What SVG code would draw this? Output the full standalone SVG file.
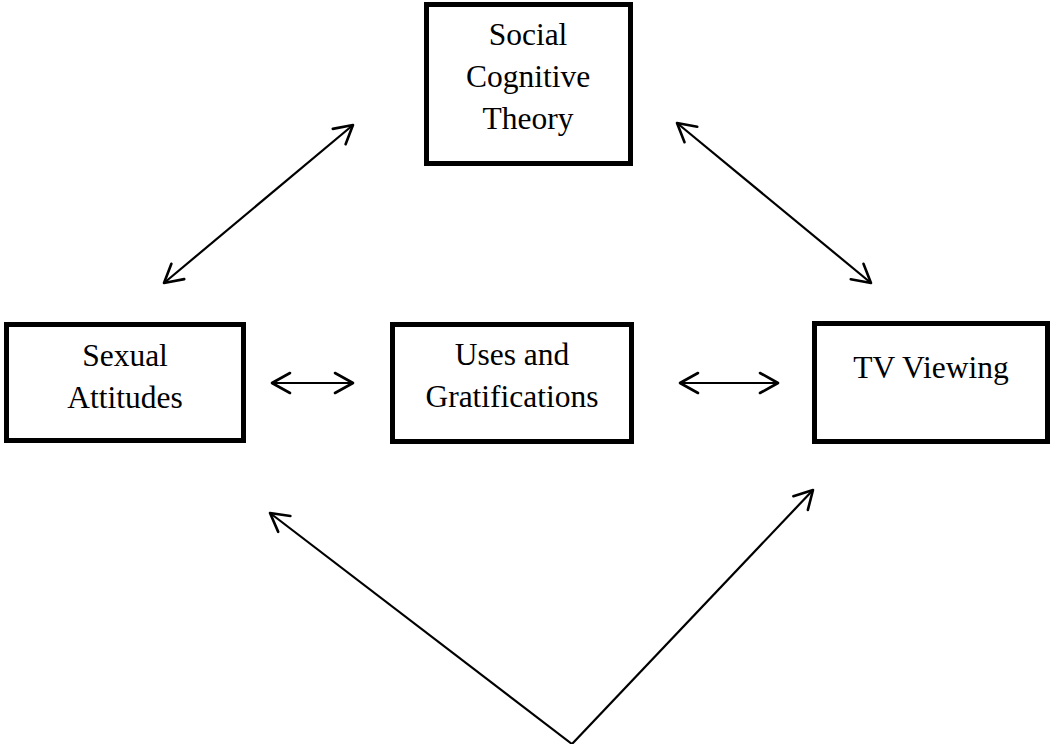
<svg xmlns="http://www.w3.org/2000/svg" width="1054" height="744" viewBox="0 0 1054 744">
<style>
.box{fill:#fff;stroke:#000;stroke-width:5}
.lbl{font-family:"Liberation Serif","Times New Roman",serif;font-size:31.5px;fill:#000;text-anchor:middle}
.con{fill:none;stroke:#000;stroke-width:2.2;marker-start:url(#ah);marker-end:url(#ah)}
.conb{fill:none;stroke:#000;stroke-width:2.2;marker-end:url(#ah)}
</style>
<defs>
<marker id="ah" markerUnits="userSpaceOnUse" markerWidth="30" markerHeight="30" refX="0" refY="0" viewBox="-22 -15 30 30" orient="auto-start-reverse" overflow="visible">
<path d="M -18 -10 L 0 0 L -18 10" fill="none" stroke="#000" stroke-width="2.6" stroke-linecap="round" stroke-linejoin="round"/>
</marker>
</defs>
<rect width="1054" height="744" fill="#fff"/>
<g id="connectors">
<line class="con" x1="164" y1="283" x2="353" y2="125"/>
<line class="con" x1="677" y1="123" x2="871" y2="283"/>
<line class="con" x1="272" y1="383" x2="353" y2="383"/>
<line class="con" x1="680" y1="383" x2="778" y2="383"/>
<line class="conb" x1="572" y1="744" x2="270" y2="513"/>
<line class="conb" x1="572" y1="744" x2="813" y2="490"/>
</g>
<g id="social-cognitive-theory">
<rect class="box" x="426.5" y="4.5" width="204" height="159"/>
<text class="lbl" x="528" y="45">Social</text>
<text class="lbl" x="528" y="87">Cognitive</text>
<text class="lbl" x="528" y="129">Theory</text>
</g>
<g id="sexual-attitudes">
<rect class="box" x="6.5" y="324.5" width="237" height="116"/>
<text class="lbl" x="125" y="366">Sexual</text>
<text class="lbl" x="125" y="408">Attitudes</text>
</g>
<g id="uses-and-gratifications">
<rect class="box" x="392.5" y="324.5" width="239" height="117"/>
<text class="lbl" x="512" y="365">Uses and</text>
<text class="lbl" x="512" y="407">Gratifications</text>
</g>
<g id="tv-viewing">
<rect class="box" x="814.5" y="323.5" width="233" height="118"/>
<text class="lbl" x="931" y="378">TV Viewing</text>
</g>
</svg>
